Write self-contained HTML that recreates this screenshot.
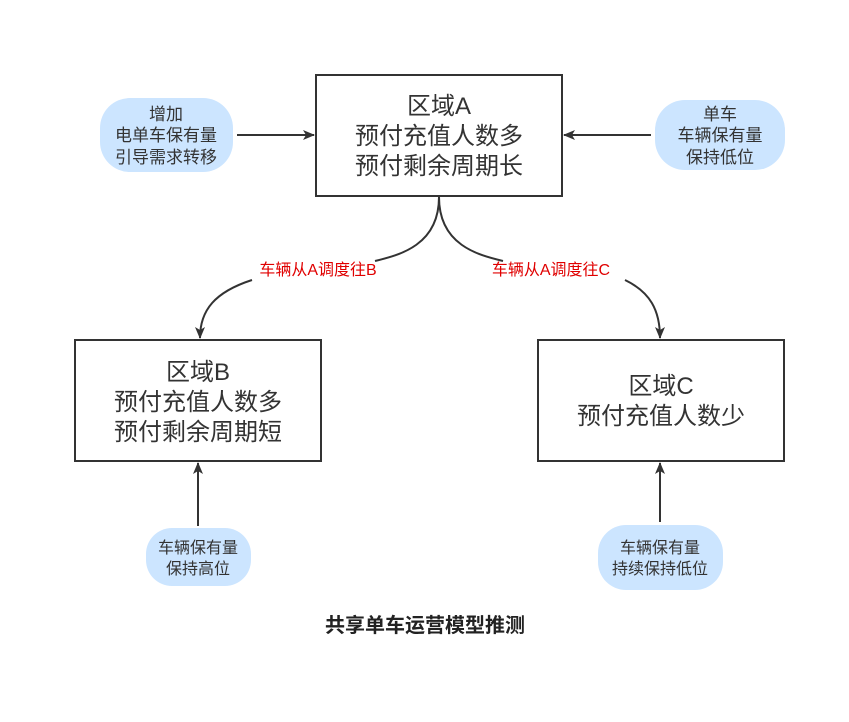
<!DOCTYPE html>
<html><head><meta charset="utf-8"><style>
body{margin:0;background:#fff;}
svg text{font-family:"Liberation Sans","Noto Sans CJK SC",sans-serif;}
</style></head><body>
<svg width="849" height="717" viewBox="0 0 849 717" xmlns="http://www.w3.org/2000/svg">
<defs>
<marker id="ar" markerWidth="12" markerHeight="10" refX="11" refY="5" orient="auto" markerUnits="userSpaceOnUse">
<path d="M0,0 L12,5 L0,10 L3,5 Z" fill="#333"/>
</marker>
</defs>
<rect width="849" height="717" fill="#fff"/>
<rect x="316" y="75" width="246" height="121" fill="#fff" stroke="#333" stroke-width="2"/>
<rect x="75" y="340" width="246" height="121" fill="#fff" stroke="#333" stroke-width="2"/>
<rect x="538" y="340" width="246" height="121" fill="#fff" stroke="#333" stroke-width="2"/>
<g font-size="24" fill="#333" text-anchor="middle">
<text x="439" y="114">区域A</text>
<text x="439" y="144">预付充值人数多</text>
<text x="439" y="174">预付剩余周期长</text>
<text x="198" y="380">区域B</text>
<text x="198" y="410">预付充值人数多</text>
<text x="198" y="440">预付剩余周期短</text>
<text x="661" y="394">区域C</text>
<text x="661" y="424">预付充值人数少</text>
</g>
<g fill="#cce5ff">
<rect x="100" y="98" width="133" height="74" rx="30"/>
<rect x="655" y="100" width="130" height="70" rx="30"/>
<rect x="146" y="528" width="105" height="58" rx="26"/>
<rect x="598" y="525" width="125" height="65" rx="28"/>
</g>
<g font-size="17" fill="#333" text-anchor="middle">
<text x="166" y="120">增加</text>
<text x="166" y="141">电单车保有量</text>
<text x="166" y="163">引导需求转移</text>
<text x="720" y="120">单车</text>
<text x="720" y="141">车辆保有量</text>
<text x="720" y="163">保持低位</text>
</g>
<g font-size="16" fill="#333" text-anchor="middle">
<text x="198" y="553">车辆保有量</text>
<text x="198" y="574">保持高位</text>
<text x="660" y="553">车辆保有量</text>
<text x="660" y="574">持续保持低位</text>
</g>
<g stroke="#333" stroke-width="2" fill="none" marker-end="url(#ar)">
<line x1="237" y1="135" x2="314" y2="135"/>
<line x1="651" y1="135" x2="564" y2="135"/>
<line x1="198" y1="526" x2="198" y2="463"/>
<line x1="660" y1="522" x2="660" y2="463"/>
<path d="M439,197 C439,245 400,255 375,261 M252,280 C215,292 200,310 200,338"/>
<path d="M439,197 C439,245 478,255 503,261 M625,280 C650,292 660,310 660,338"/>
</g>
<g font-size="16" fill="#e00000" text-anchor="middle">
<text x="318" y="275">车辆从A调度往B</text>
<text x="551" y="275">车辆从A调度往C</text>
</g>
<text x="425" y="632" font-size="20" font-weight="bold" fill="#222" text-anchor="middle">共享单车运营模型推测</text>
</svg>
</body></html>
